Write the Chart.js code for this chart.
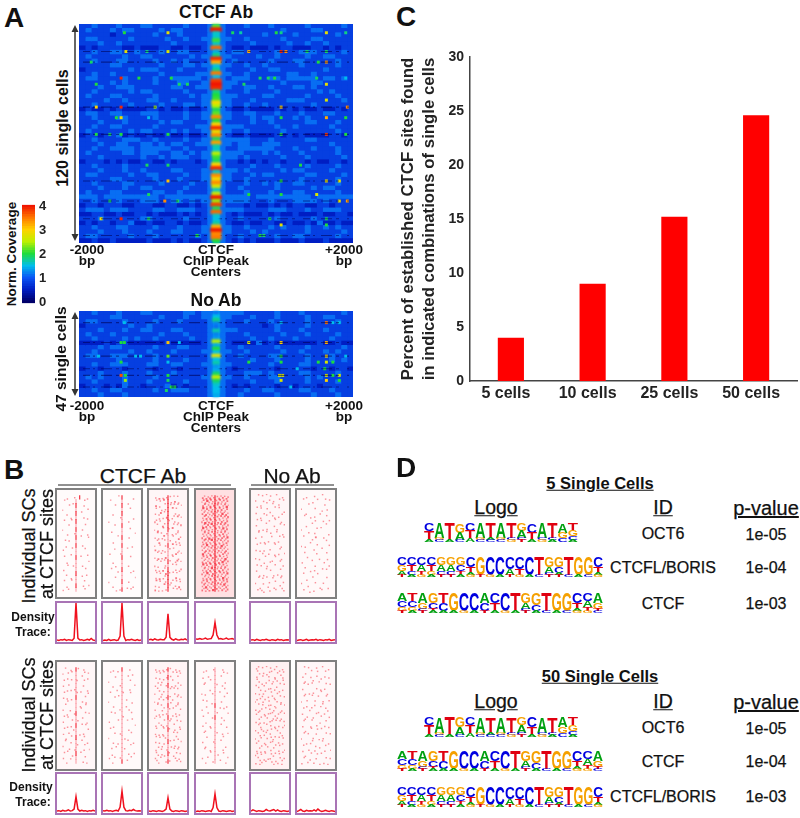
<!DOCTYPE html>
<html>
<head>
<meta charset="utf-8">
<title>CTCF single cell figure</title>
<script src="https://cdn.jsdelivr.net/npm/chart.js@4"></script>
<style>
  html, body { margin: 0; padding: 0; background: #fff; }
  #page { position: relative; width: 800px; height: 818px; overflow: hidden; font-family: "Liberation Sans", Arial, sans-serif; color: #111; }
  .label { position: absolute; white-space: nowrap; line-height: 1; transform-origin: center; }
  .frame { position: absolute; box-sizing: border-box; background: #fff; }
  .frame canvas, .free { display: block; }
  .free { position: absolute; }
  .soft { filter: blur(0.5px); }
  .softer { filter: blur(0.9px); }
  svg { position: absolute; left: 0; top: 0; }
</style>
</head>
<body>
<div id="page"></div>
<script>
// Panel C
const barCategories = ['5 cells', '10 cells', '25 cells', '50 cells'];
const barValues = [4.0, 9.0, 15.2, 24.6];

// Panel A colour bar, top to bottom
const colorbarLevels = [4, 3.9, 3.8, 3.7, 3.6, 3.5, 3.4, 3.3, 3.2, 3.1, 3, 2.9, 2.8, 2.7, 2.6, 2.5, 2.4, 2.3, 2.2, 2.1, 2, 1.9, 1.8, 1.7, 1.6, 1.5, 1.4, 1.3, 1.2, 1.1, 1, 0.9, 0.8, 0.7, 0.6, 0.5, 0.4, 0.3, 0.2, 0.1, 0];

// Background coverage that each digit in the heat map rows stands for
const heatDigitValues = [0.3, 0.5, 0.8, 1.12, 1.45];

// Panel A, CTCF Ab: background of the map, rows of cells, left to right
const heatCtcfRows = [
  '22322 23222 33222 22322 23432 22322 23222 22322 22232',
  '23222 32332 22232 33222 23432 22222 22232 22233 22222',
  '22222 12222 22322 23222 23432 22222 32222 32222 22322',
  '23322 22232 22223 22322 33433 22322 22232 22233 22222',
  '22232 23222 22222 32222 23432 22232 22223 22322 32222',
  '12122 22112 11122 11211 23432 11211 12122 11122 12122',
  '22322 33223 22232 23322 23432 33222 22322 23332 22232',
  '23222 22322 33222 22232 33433 22223 22322 22322 33222',
  '22322 23322 22322 32322 23432 32222 23222 33222 22322',
  '22222 33222 22232 22332 33433 22322 32222 23222 22322',
  '12222 22232 33322 23222 23432 22232 23322 22222 32222',
  '22322 32222 22232 22223 33433 22322 22223 32232 22222',
  '23322 22322 22322 33333 23432 33322 23323 33332 33232',
  '22222 32322 22322 23322 33433 32222 22232 22233 22222',
  '22232 23332 22222 33223 33433 22332 23222 33232 22222',
  '22322 22232 33222 22322 23432 22322 22322 22223 23222',
  '23222 33222 22322 22232 33433 32222 33222 22322 22322',
  '22223 22322 23322 32222 33433 22232 22223 33222 22232',
  '22322 22232 22232 22332 33433 22322 32222 22232 22222',
  '12112 12111 12212 11211 23432 11211 11212 12112 11212',
  '23322 33222 33322 22322 33433 22332 22322 23222 33222',
  '22322 23322 22322 22322 33433 22232 33222 32322 22222',
  '22232 22322 22232 33222 23432 22232 23222 22332 22322',
  '22322 33222 22322 22223 33433 33222 22322 32222 23222',
  '23222 22232 33222 32322 33433 22322 22232 22222 22322',
  '12212 23121 12112 11211 23432 11211 11212 12111 12212',
  '22322 22333 22322 22322 33433 33322 23222 22332 22222',
  '22232 23322 33232 33223 33433 23322 33322 22222 23222',
  '22322 33332 33333 22322 23432 23333 33222 32232 22322',
  '23222 22332 33322 33232 33433 33222 32322 23222 22322',
  '22232 22222 32232 33322 33433 32322 22232 22322 22232',
  '12221 21211 22112 12221 23432 21212 12212 22121 12212',
  '22322 22322 22222 22222 23432 22232 22322 22322 22322',
  '22232 22322 32222 33222 33433 32322 22232 33222 23222',
  '23322 22232 23322 22322 33433 22232 33222 22332 22232',
  '22222 33222 22322 23222 33433 22322 22222 23222 22322',
  '22322 22332 22232 22232 23432 22322 32322 33222 22322',
  '22232 22322 33222 22322 23432 23222 22322 22232 33222',
  '23222 33222 22332 23222 23432 22322 23222 33222 22322',
  '33323 33333 33323 33333 33433 33323 33333 33323 33333',
  '22322 23222 33322 33232 33433 33322 23222 33332 32222',
  '12212 22112 22112 21121 23432 22121 12121 22112 21222',
  '23332 33322 22332 23332 23433 33222 23332 22322 33322',
  '11221 12112 21211 12121 23432 12111 21211 21112 11221',
  '22232 22222 33222 22322 23432 23222 22322 22232 22222',
  '12122 12231 12112 21211 23432 11211 22112 11213 11211',
  '22322 23322 22322 23222 33433 22322 23232 22322 32322',
  '22232 22322 23222 33222 33433 22232 32222 22322 22232',
  '23322 22232 22322 22223 23432 23222 22322 33222 22322',
  '11211 21111 12111 21211 23432 12121 11211 12111 21111',
];

// Panel A, No Ab background
const heatNoAbRows = [
  '22322 23222 33222 22332 33433 33222 22322 23222 22232',
  '22222 33222 22232 22322 33433 22232 22322 22322 33222',
  '23322 22322 22322 23222 23432 22322 23222 22322 22322',
  '12222 22232 23222 22222 23432 22222 12322 22322 22222',
  '22232 22322 33222 33222 23433 32222 22322 23222 32222',
  '23222 32222 22232 22322 23432 22322 22232 22322 22322',
  '22322 22323 22322 22232 23432 22232 23222 32222 23222',
  '11112 12211 11112 11111 23432 11113 12111 11112 11211',
  '22232 33222 22322 23322 23432 23222 22322 22322 22232',
  '22322 22232 23222 32222 33433 22322 22232 23222 32322',
  '23322 33322 22322 22222 23432 23222 23322 22322 23222',
  '22222 23222 22322 22322 23432 22232 22322 22322 23232',
  '22322 33322 23322 33222 33433 22222 23222 23322 22222',
  '12212 22122 22122 21222 23432 12222 22122 22212 21221',
  '22232 22322 23222 32222 23432 22333 23222 23322 22322',
  '23232 22322 22322 22222 33433 22322 23322 22323 22222',
  '22322 22322 23222 22322 23432 22232 22322 22322 22322',
  '12221 21322 12223 12122 23432 12122 22122 12221 22222',
  '22322 33222 22322 33322 23432 22322 33222 23322 23222',
  '22232 22322 22222 22222 23432 23222 22322 22232 22322',
];

// Panel A hot cells as [bp from peak centre, cell, coverage]
const ctcfSpots = [
  [-1378, 2.7, 2.0], [-722, 2.7, 2.8], [251, 2.7, 1.9], [372, 2.7, 1.7], [906, 2.7, 2.0], [979, 2.7, 1.8], [1660, 2.7, 2.8], [1951, 2.7, 1.8],
  [-1354, 13.4, 2.8], [-1038, 13.4, 1.8], [-722, 13.4, 2.7], [493, 13.4, 3.2], [979, 13.4, 3.9], [1052, 13.4, 3.4], [1368, 13.4, 1.9], [1660, 13.4, 1.9],
  [-1878, 19.4, 1.9], [1538, 19.4, 2.0], [1660, 19.4, 3.3],
  [-1427, 28.5, 3.9], [-1159, 28.5, 2.0], [-673, 28.5, 2.0], [663, 28.5, 1.9], [785, 28.5, 1.9], [882, 28.5, 2.0], [1514, 28.5, 1.9], [1951, 28.5, 1.5],
  [-1801, 32, 2.0], [-552, 32, 1.9], [-430, 32, 1.9], [420, 32, 1.9], [1660, 32, 2.8],
  [1660, 41, 2.7], [-1801, 45, 3.0], [-1427, 45, 3.9], [-916, 45, 2.4], [979, 45, 3.0], [1975, 45, 3.4],
  [-1499, 51, 2.0], [-1427, 51, 2.9], [-1013, 51, 1.5], [979, 51, 2.0], [1660, 51, 3.2], [1951, 51, 2.0],
  [-1801, 60.5, 2.0], [-1597, 60.5, 1.9], [-1427, 60.5, 2.0], [-722, 60.5, 2.0], [979, 60.5, 2.0], [1660, 60.5, 3.8], [1951, 60.5, 2.0],
  [-1038, 78, 1.9], [-722, 78, 1.9], [1271, 78, 2.0],
  [-722, 87, 3.1], [979, 87, 2.0], [1660, 87, 2.8], [1854, 87, 2.8],
  [-1013, 94.7, 1.9], [493, 94.7, 2.0], [979, 94.7, 2.0], [1514, 94.7, 2.7],
  [-1597, 98.4, 1.9], [-770, 98.4, 3.4], [-576, 98.4, 1.9], [1854, 98.4, 2.8], [1975, 98.4, 3.3],
  [-1728, 108.5, 2.9], [-1427, 108.5, 3.9], [-1013, 108.5, 1.9], [809, 108.5, 1.9], [1660, 108.5, 1.9],
  [979, 112, 2.8], [1660, 112, 2.0], [-284, 118, 2.0], [663, 118, 2.0], [720, 118, 1.9],
];
const noAbSpots = [
  [-1378, 4.6, 1.5], [979, 4.6, 1.5], [1660, 4.6, 3.5], [1757, 4.6, 1.5], [1854, 4.6, 1.5],
  [-1427, 16.6, 2.0], [-1378, 16.6, 2.0], [-722, 16.6, 3.1], [-552, 16.6, 1.5], [493, 16.6, 2.7], [979, 16.6, 3.0], [1660, 16.6, 3.2],
  [-1767, 24.8, 1.5], [-1208, 24.8, 1.5], [-1135, 24.8, 1.5], [-722, 24.8, 2.2], [979, 24.8, 2.0], [1660, 24.8, 2.9], [1951, 24.8, 1.5],
  [-1427, 28.4, 2.0], [-722, 28.4, 1.5], [493, 28.4, 2.0], [979, 28.4, 2.0], [1538, 28.4, 2.0], [1660, 28.4, 2.7], [1757, 28.4, 2.0],
  [1222, 32.4, 1.5], [1635, 32.4, 2.0],
  [-1427, 36.4, 3.7], [-1363, 36.4, 2.0], [-722, 36.4, 2.0], [955, 36.4, 2.7], [1003, 36.4, 2.7], [1660, 36.4, 2.7], [1757, 36.4, 2.0], [1854, 36.4, 2.7],
  [-1363, 39.4, 2.4], [-722, 39.4, 1.9], [979, 39.4, 2.7], [1660, 39.4, 3.0], [1854, 39.4, 2.0],
  [-673, 43.4, 2.0], [-620, 43.4, 2.0], [1125, 43.4, 1.5], [-746, 45.5, 1.9],
];

// Panel A dark horizontal streaks, as cell numbers
const ctcfDarkRows = [13.4, 19.4, 45, 60.5, 87, 98.4, 108.5, 118];
const noAbDarkRows = [4.6, 16.6, 24.8, 32.4, 36.4, 43.4];

// Panel A coverage along the peak centre, top to bottom
const ctcfCentre = [2.2, 4, 1.6, 1.6, 2.1, 1.6, 3.6, 1.4, 1.8, 3.9, 3.2, 1.5, 1.8, 3.5, 1.5, 3.8, 4, 3.9, 1.8, 2, 2.1, 2.9, 2.5, 1.9, 2.2, 3.4, 2, 3, 3.9, 2.8, 3.4, 1.9, 3.3, 1.7, 1.6, 2.5, 2.1, 1.9, 3, 3.9, 1.6, 3.4, 2.9, 3.4, 2.7, 1.6, 2.6, 4, 2.4, 3.8, 1.9, 3.6, 1.6, 1.5, 1.7, 3.2, 4, 3.4, 3.5, 2];
const noAbCentre = [1.1, 1.5, 1.8, 1.2, 1.1, 1.7, 1.2, 1.3, 2.5, 1.4, 2, 1.5, 2.8, 1.5, 1.7, 1.3, 1.4, 1.9, 2.6, 1.9, 1.6, 1.5, 1.5, 1.4];

// Panel B rasters: 15 columns across, 24 rows down. 1-3 are dots, 4-5 is the line at the peak centre
const rasterTop1 = [
  '00100 01005 00010', '01000 00400 00100', '00010 10500 01000', '10000 00400 00001',
  '00100 00500 10000', '00001 00400 01010', '01000 10500 00000', '00010 00400 00100',
  '10000 00500 01000', '00100 01400 00010', '00000 00500 10001', '01010 00400 00000',
  '00100 00500 01000', '10000 10400 00100', '00001 00400 00010', '01000 00500 10000',
  '00100 00400 00001', '00010 01400 01000', '10000 00400 00100', '00100 00500 00010',
  '00001 00400 10000', '01000 10400 00100', '00100 00500 01001', '10010 00400 00100',
];
const rasterTop2 = [
  '00000 10500 00010', '01000 00400 00000', '00010 00500 10000', '00000 00400 00100',
  '00100 00500 00000', '00000 01400 00010', '10000 00400 01000', '00010 00500 00000',
  '00000 00400 00100', '01000 00400 00001', '00000 10500 01000', '00100 00400 00000',
  '00000 00500 00010', '00010 00400 10000', '10000 01400 00000', '00000 00500 00100',
  '00100 00400 00000', '00001 00400 01000', '01000 00500 00010', '00000 10400 00100',
  '00010 00400 00001', '10000 00500 01000', '00100 00400 00010', '00001 01500 10100',
];
const rasterTop3 = [
  '10201 01510 10100', '01010 20501 02010', '20100 10510 10101', '01001 01500 20100',
  '10120 10500 01010', '00101 02501 10201', '21010 00510 01010', '01002 10500 10102',
  '10100 10510 20010', '02010 01401 01100', '10101 20400 10021', '01200 10410 01010',
  '10010 01500 20101', '20101 00410 10010', '01010 10401 02101', '10201 02400 10010',
  '01010 10510 01201', '20100 01400 10100', '10102 10500 01012', '01010 02510 10100',
  '10201 10500 02010', '02010 01501 10101', '10100 20510 01020', '20101 01500 10101',
];
const rasterTop4 = [
  '21212 11512 12122', '12131 21512 21212', '22112 12521 11231', '13121 21512 22112',
  '21211 22511 13121', '12212 11521 21213', '21312 21512 12122', '11221 32511 21212',
  '23112 11521 11322', '12121 21512 22111', '21213 11512 12213', '12211 31511 21122',
  '22131 12521 13211', '11212 21512 21121', '32112 11511 12212', '12121 22521 21131',
  '21212 11512 13212', '13121 21521 11221', '12212 31512 22112', '21131 12511 21213',
  '11212 21521 13121', '22121 12512 11212', '12311 21511 21321', '21212 13521 12122',
];
const rasterTop5 = [
  '01010 10100 10010', '10001 00101 00101', '00100 10010 01000', '01010 01000 10100',
  '10001 00100 00011', '00100 10011 01000', '01010 00100 10010', '10000 10001 00101',
  '00101 01000 01000', '01000 10100 10010', '10010 00010 00101', '00101 01001 01000',
  '01000 10000 10010', '10101 00100 00100', '00010 01001 01001', '10100 10000 10010',
  '00001 00110 00100', '01010 01000 10001', '10000 10100 00100', '00101 00001 01010',
  '01010 10010 00100', '10001 00100 10001', '00100 01001 00110', '01011 00100 10001',
];
const rasterTop6 = [
  '00100 01000 10000', '01000 00010 00101', '00010 10000 01000', '10000 00100 00010',
  '00100 00001 10000', '01001 01000 00100', '00000 00100 01001', '00100 10000 00100',
  '10000 00010 10000', '00010 01000 00010', '01000 00200 01000', '00001 10000 00100',
  '10100 00010 00001', '00000 01000 10000', '01000 00100 00100', '00010 00001 00010',
  '10000 10000 01000', '00100 00100 00001', '00001 01000 10100', '01000 00010 00000',
  '00100 10000 00100', '10000 00100 01000', '00010 00001 00010', '01001 01000 10000',
];
const rasterBottom1 = [
  '01001 00510 01000', '10010 10400 00101', '00100 00400 10010', '01000 10410 00100',
  '10010 00400 01000', '00101 01400 00010', '01000 00410 10001', '10100 00500 00100',
  '00010 10400 01010', '01000 00401 00100', '10001 00400 10000', '00100 01500 00101',
  '01010 00400 01000', '10000 10410 00010', '00101 00500 10100', '01000 01400 00001',
  '10010 00401 01000', '00100 10500 00100', '01001 00400 10010', '10000 00410 00100',
  '00110 01400 01001', '01000 00500 10000', '10001 10400 00100', '00100 00400 01010',
];
const rasterBottom2 = [
  '00100 00500 01000', '01000 10400 00010', '00010 00400 10000', '10000 00400 00100',
  '00100 01400 00001', '00001 00400 01000', '01000 00410 00100', '00010 10400 00000',
  '10000 00400 10010', '00100 00401 00000', '00000 01400 01000', '01010 00400 00100',
  '00000 00410 00010', '10000 10400 10000', '00100 00400 00001', '01000 00400 01000',
  '00010 01400 00100', '10000 00401 00000', '00100 00400 10010', '00001 10400 00100',
  '01000 00410 00000', '00100 00400 01001', '10010 01400 00100', '00100 00500 10000',
];
const rasterBottom3 = [
  '10101 01510 01010', '01010 10400 10101', '10100 01510 00100', '00101 10400 10010',
  '10010 01501 01001', '01100 00410 10100', '10001 10400 01010', '00110 01510 00101',
  '10100 10401 10010', '01010 00500 01100', '10001 10410 10001', '00101 01400 01010',
  '11010 00501 10100', '00100 10410 00101', '10011 01400 10010', '01000 10510 01001',
  '10101 00400 10100', '01010 11400 00110', '10100 00510 10001', '00101 10401 01010',
  '10010 01400 10100', '01101 00510 00101', '10010 10400 11010', '01100 01510 00101',
];
const rasterBottom4 = [
  '00100 01400 01000', '01000 00400 00101', '10010 00400 10000', '00100 10400 00010',
  '01000 00410 01000', '00001 00400 00100', '10100 01400 10001', '00000 00400 00100',
  '01010 00400 01000', '00100 10500 00010', '10000 00400 10100', '00010 00410 00001',
  '01000 01500 01000', '00100 00400 00100', '10001 00400 10010', '00100 10400 00000',
  '01000 00410 01001', '00010 00400 00100', '10000 01400 10000', '00100 00400 00010',
  '01001 00400 01000', '00000 10401 00100', '10010 00400 00001', '00100 01400 10010',
];
const rasterBottom5 = [
  '11010 10101 10010', '01101 00110 01101', '10010 11001 00110', '01100 00101 11001',
  '10011 10010 00101', '01100 01101 10010', '10101 10010 01100', '00110 01011 00101',
  '11001 10100 11010', '01010 01101 00101', '10110 10101 10010', '11001 01110 01101',
  '00110 11001 11010', '10101 00110 10101', '01100 10101 01011', '10011 01010 11000',
  '01101 10100 00110', '10010 01011 10101', '11001 00110 01010', '00110 11001 10100',
  '10101 00100 01011', '11010 10011 10100', '01101 01100 00111', '10110 10011 11010',
];
const rasterBottom6 = [
  '01010 00100 10010', '00100 10010 00100', '10001 00100 01010', '00100 01001 10000',
  '01010 10000 00101', '10000 00101 01000', '00101 01000 10010', '01000 10010 00100',
  '10010 00100 01001', '00100 01001 10000', '01001 10000 00110', '10000 00110 01000',
  '00110 01000 10001', '01000 10001 00100', '10001 00100 01010', '00100 10010 10000',
  '01010 00100 00101', '10000 01001 01000', '00101 10000 10010', '01000 00101 00100',
  '10010 01000 01001', '00100 10010 10000', '01001 00100 00101', '10010 01001 01010',
];
// Rasters were read in bins, these undo the straight rows and columns of the bins
const rasterRowNudge = [0.3, -0.2, 0.45, -0.4, 0.1, 0.35, -0.3, 0.2, -0.45, 0.4, -0.1, 0.25, -0.35, 0.05, 0.4, -0.25, 0.15, -0.4, 0.3, -0.15, 0.45, -0.3, 0.1, -0.05];
const rasterColNudge = [0.2, -0.3, 0.4, -0.1, 0.3, -0.4, 0.1, 0, -0.2, 0.35, -0.35, 0.15, -0.25, 0.4, -0.05];

// Panel B density traces, 21 bins across, 0-1 of the box height
const traceTop1 = [0.05, 0.04, 0.06, 0.05, 0.07, 0.04, 0.06, 0.05, 0.04, 0.1, 1.0, 0.1, 0.05, 0.06, 0.04, 0.05, 0.07, 0.05, 0.09, 0.05, 0.04];
const traceTop2 = [0.04, 0.05, 0.04, 0.07, 0.04, 0.05, 0.06, 0.04, 0.05, 0.15, 1.0, 0.15, 0.04, 0.06, 0.05, 0.07, 0.05, 0.04, 0.06, 0.04, 0.05];
const traceTop3 = [0.06, 0.07, 0.05, 0.08, 0.06, 0.05, 0.07, 0.06, 0.06, 0.12, 0.72, 0.12, 0.07, 0.05, 0.08, 0.06, 0.05, 0.07, 0.06, 0.08, 0.05];
const traceTop4 = [0.08, 0.07, 0.09, 0.07, 0.08, 0.1, 0.07, 0.08, 0.09, 0.18, 0.5, 0.18, 0.08, 0.09, 0.07, 0.08, 0.1, 0.07, 0.08, 0.09, 0.07];
const traceTop5 = [0.05, 0.06, 0.04, 0.07, 0.05, 0.04, 0.06, 0.05, 0.07, 0.05, 0.04, 0.06, 0.05, 0.04, 0.07, 0.05, 0.06, 0.04, 0.05, 0.06, 0.05];
const traceTop6 = [0.04, 0.05, 0.06, 0.04, 0.05, 0.07, 0.04, 0.05, 0.06, 0.05, 0.07, 0.04, 0.06, 0.05, 0.04, 0.06, 0.05, 0.07, 0.04, 0.05, 0.06];
const traceBottom1 = [0.05, 0.06, 0.04, 0.07, 0.05, 0.06, 0.08, 0.05, 0.06, 0.1, 0.42, 0.1, 0.05, 0.07, 0.05, 0.06, 0.04, 0.06, 0.05, 0.07, 0.05];
const traceBottom2 = [0.06, 0.05, 0.07, 0.05, 0.06, 0.04, 0.06, 0.07, 0.05, 0.15, 0.56, 0.15, 0.06, 0.05, 0.07, 0.06, 0.09, 0.06, 0.05, 0.06, 0.05];
const traceBottom3 = [0.05, 0.04, 0.06, 0.05, 0.04, 0.06, 0.05, 0.04, 0.06, 0.1, 0.39, 0.1, 0.05, 0.04, 0.06, 0.05, 0.04, 0.06, 0.05, 0.04, 0.05];
const traceBottom4 = [0.04, 0.05, 0.04, 0.06, 0.05, 0.04, 0.05, 0.06, 0.04, 0.14, 0.49, 0.14, 0.05, 0.04, 0.06, 0.05, 0.04, 0.05, 0.06, 0.04, 0.05];
const traceBottom5 = [0.05, 0.08, 0.06, 0.04, 0.06, 0.05, 0.04, 0.05, 0.09, 0.06, 0.05, 0.07, 0.09, 0.05, 0.08, 0.05, 0.04, 0.06, 0.05, 0.04, 0.05];
const traceBottom6 = [0.04, 0.06, 0.09, 0.05, 0.04, 0.07, 0.05, 0.06, 0.05, 0.08, 0.05, 0.1, 0.06, 0.04, 0.05, 0.07, 0.05, 0.04, 0.06, 0.05, 0.04];

// Panel D sequence logos: each column is letters top to bottom with height in tenths
const logoOct6 = ['C4T5A1', 'A8G1C1', 'T9A1', 'G5A4C1', 'C4T4A2', 'A8G1C1', 'T8A1C1', 'A8G1C1', 'T8C1G1', 'G4A4C1T1', 'C5T4A1', 'A8C1G1', 'T8C1A1', 'A5G3C2', 'T4G3C2A1'];
const logoBoris = ['C4G3A2T1', 'C4T3C2A1', 'C4A3T2G1', 'C4T3G2A1', 'G4A3C2T1', 'G4A3C2T1', 'G4C3T2A1', 'C5T3A1G1', 'G9T1', 'C9G1', 'C9A1', 'C6A3T1', 'C6T3G1', 'C9A1', 'T9C1', 'G5A3C1T1', 'G5C3A1T1', 'T9C1', 'G9A1', 'G9C1', 'C5T3A1G1'];
const logoCtcf = ['A4C3G2T1', 'T4C3G2A1', 'A5G3C1T1', 'G5C3T1A1', 'T5C4A1', 'G9A1', 'C9G1', 'C9A1', 'A5C4T1', 'C5T4A1', 'C9G1', 'T9A1', 'G5A3C1T1', 'G6C3A1', 'T9C1', 'G9A1', 'G9C1', 'C5T3A1G1', 'C4A3T2G1', 'A5G3T1C1'];

const page = document.getElementById('page');
const FONT = '"Liberation Sans", Arial, sans-serif';

Chart.defaults.animation = false;
Chart.defaults.responsive = false;
Chart.defaults.font.family = FONT;
Chart.defaults.plugins.legend.display = false;
Chart.defaults.plugins.tooltip.enabled = false;

// Colour for a coverage value, same scale as the colour bar
const heatStops = [[0, 0, 0, 105], [0.5, 0, 30, 195], [1, 10, 85, 245], [1.5, 0, 190, 235], [2, 30, 220, 60], [2.5, 190, 240, 0], [3, 255, 210, 0], [3.5, 255, 120, 0], [4, 240, 20, 0]];
function heatColor(value) {
    for (let i = 1; i < heatStops.length; i++) {
        const a = heatStops[i - 1], b = heatStops[i];
        if (value <= b[0]) {
            const t = (value - a[0]) / (b[0] - a[0]);
            return `rgb(${Math.round(a[1] + t * (b[1] - a[1]))},${Math.round(a[2] + t * (b[2] - a[2]))},${Math.round(a[3] + t * (b[3] - a[3]))})`;
        }
    }
    return 'rgb(240,20,0)';
}

function addCanvas(x, y, w, h, cls) {
    const c = document.createElement('canvas');
    c.width = w;
    c.height = h;
    c.className = 'free ' + (cls || '');
    c.style.left = x + 'px';
    c.style.top = y + 'px';
    page.appendChild(c);
    return c;
}

// Box with a css border and a chart filling the inside
function addFrame(x0, y0, x1, y1, border) {
    const d = document.createElement('div');
    d.className = 'frame';
    d.style.cssText = `left:${x0}px;top:${y0}px;width:${x1 - x0}px;height:${y1 - y0}px;border:${border}`;
    const c = document.createElement('canvas');
    c.width = x1 - x0 - 4;
    c.height = y1 - y0 - 4;
    c.className = 'soft';
    d.appendChild(c);
    page.appendChild(d);
    return c;
}

function addText(text, x, y, size, opts) {
    const o = opts || {};
    const s = document.createElement('div');
    s.className = 'label';
    s.textContent = text;
    s.style.left = x + 'px';
    s.style.top = y + 'px';
    s.style.fontSize = size + 'px';
    s.style.fontWeight = o.bold ? 'bold' : 'normal';
    if (!o.bold) s.style.webkitTextStroke = '0.25px #111';
    if (o.underline) s.style.textDecoration = 'underline';
    s.style.transform = `translate(-50%,-50%) rotate(${o.rot || 0}deg)`;
    page.appendChild(s);
}

// Heat map: background as stacked horizontal bars, one dataset per column
function drawHeatBackground(x0, y0, x1, y1, rows) {
    const grid = rows.map(r => r.replace(/ /g, '').split('').map(d => heatDigitValues[+d]));
    const canvas = addCanvas(x0, y0, x1 - x0, y1 - y0, 'soft');
    canvas.style.background = 'rgb(0,66,233)';
    const datasets = grid[0].map((_, col) => ({
        data: grid.map(() => 1),
        backgroundColor: grid.map(r => heatColor(r[col])),
        barPercentage: 1,
        categoryPercentage: 1,
        inflateAmount: 0.4,
    }));
    new Chart(canvas, {
        type: 'bar',
        data: { labels: grid.map((_, i) => i), datasets },
        options: {
            indexAxis: 'y',
            layout: { padding: 0 },
            scales: {
                x: { display: false, stacked: true, min: 0, max: grid[0].length },
                y: { display: false, stacked: true },
            },
        },
    });
}

// Coverage along the peak centre as floating bars around 0 bp, hotter rows a bit wider
function drawHeatCentre(x0, y0, x1, y1, centre) {
    const canvas = addCanvas(x0, y0, x1 - x0, y1 - y0, 'softer');
    new Chart(canvas, {
        type: 'bar',
        data: {
            labels: centre.map((_, i) => i),
            datasets: [{
                data: centre.map(v => [-(25 + 14 * v), 25 + 14 * v]),
                backgroundColor: centre.map(heatColor),
                barPercentage: 1,
                categoryPercentage: 1,
            }],
        },
        options: {
            indexAxis: 'y',
            layout: { padding: 0 },
            scales: {
                x: { display: false, min: -2000, max: 2000 },
                y: { display: false },
            },
        },
    });
}

// Dark streaks and hot cells on top of the background
function drawHeatMarks(x0, y0, x1, y1, cells, spots, darkRows) {
    const canvas = addCanvas(x0, y0, x1 - x0, y1 - y0, 'soft');
    const streaks = darkRows.map(row => ({
        data: [{ x: -2000, y: row }, { x: 2000, y: row }],
        showLine: true,
        pointRadius: 0,
        borderColor: 'rgba(0,0,80,0.55)',
        borderWidth: 1.1,
        borderDash: [7, 3, 2, 6, 11, 4, 3, 8],
    }));
    const hot = {
        data: spots.map(s => ({ x: s[0], y: s[1] })),
        pointStyle: 'rect',
        pointRadius: 2.1,
        pointBorderWidth: 0,
        pointBackgroundColor: spots.map(s => heatColor(s[2])),
    };
    new Chart(canvas, {
        type: 'scatter',
        data: { datasets: [...streaks, hot] },
        options: {
            layout: { padding: 0 },
            scales: {
                x: { display: false, min: -2000, max: 2000 },
                y: { display: false, min: 0, max: cells, reverse: true },
            },
        },
    });
}

function drawColorbar() {
    const canvas = addCanvas(22, 193, 36, 122);
    new Chart(canvas, {
        type: 'bar',
        data: {
            labels: colorbarLevels,
            datasets: [{
                data: colorbarLevels.map(() => 1),
                backgroundColor: colorbarLevels.map(heatColor),
                barPercentage: 1,
                categoryPercentage: 1,
                inflateAmount: 0.4,
            }],
        },
        options: {
            indexAxis: 'y',
            layout: { padding: 0 },
            scales: {
                x: { display: false, min: 0, max: 1 },
                y: {
                    position: 'right',
                    afterFit: s => { s.width = 23; },
                    grid: { display: false, drawTicks: false },
                    border: { display: false },
                    ticks: {
                        autoSkip: false,
                        padding: 4,
                        color: '#222',
                        font: { size: 13, weight: 'bold' },
                        callback: function (v) {
                            const level = this.getLabelForValue(v);
                            return Number.isInteger(+level) ? level : '';
                        },
                    },
                },
            },
        },
    });
}

function drawRaster(x0, y0, x1, y1, rows, tint) {
    const dots = [], dashes = [];
    rows.forEach((r, ry) => {
        r.replace(/ /g, '').split('').forEach((d, cx) => {
            if (d === '0') return;
            if (+d >= 4) dashes.push({ x: cx + 0.5, y: ry + 0.5, d: +d });
            else dots.push({ x: cx + 0.5 + rasterRowNudge[ry], y: ry + 0.5 + rasterColNudge[cx], d: +d });
        });
    });
    const canvas = addFrame(x0, y0, x1, y1, '2px solid #808080');
    canvas.style.background = `rgba(255,0,20,${tint})`;
    new Chart(canvas, {
        type: 'scatter',
        data: {
            datasets: [
                {
                    data: dots,
                    pointStyle: 'rect',
                    pointBorderWidth: 0,
                    pointRadius: dots.map(p => [0, 1.05, 1.3, 1.6][p.d]),
                    pointBackgroundColor: dots.map(p => `rgba(245,20,40,${[0, 0.45, 0.55, 0.7][p.d]})`),
                },
                {
                    data: dashes,
                    pointStyle: 'line',
                    rotation: 90,
                    pointRadius: 2.3,
                    pointBorderWidth: 1.3,
                    pointBorderColor: dashes.map(p => (p.d === 5 ? 'rgba(240,0,20,0.75)' : 'rgba(245,20,40,0.32)')),
                },
            ],
        },
        options: {
            layout: { padding: 0 },
            scales: {
                x: { display: false, min: 0, max: 15 },
                y: { display: false, min: 0, max: rows.length, reverse: true },
            },
        },
    });
}

function drawTrace(x0, y0, x1, y1, values) {
    const canvas = addFrame(x0, y0, x1, y1, '2px solid #a974b5');
    new Chart(canvas, {
        type: 'line',
        data: {
            labels: values.map((_, i) => i),
            datasets: [{ data: values, borderColor: '#f0101e', borderWidth: 1.5, pointRadius: 0, tension: 0 }],
        },
        options: {
            layout: { padding: 0 },
            scales: {
                x: { display: false },
                y: { display: false, min: 0, max: 1 },
            },
        },
    });
}

function drawBars() {
    const canvas = addCanvas(395, 40, 405, 370);
    new Chart(canvas, {
        type: 'bar',
        data: {
            labels: barCategories,
            datasets: [{ data: barValues, backgroundColor: '#ff0000', barPercentage: 0.32, categoryPercentage: 1 }],
        },
        options: {
            layout: { padding: { top: 17, right: 3, left: 0, bottom: 0 } },
            scales: {
                x: {
                    afterFit: s => { s.height = 29; },
                    grid: { display: false, drawTicks: false },
                    border: { color: '#444', width: 1.5 },
                    ticks: { color: '#222', padding: 3, labelOffset: -5, font: { size: 16, weight: 'bold' } },
                },
                y: {
                    min: 0,
                    max: 30,
                    afterFit: s => { s.width = 75; },
                    grid: { display: false, drawTicks: false },
                    border: { color: '#444', width: 1.5 },
                    ticks: { stepSize: 5, color: '#222', padding: 6, font: { size: 14, weight: 'bold' } },
                    title: {
                        display: true,
                        text: ['Percent of established CTCF sites found', 'in indicated combinations of single cells'],
                        color: '#222',
                        padding: { top: 3, bottom: 0 },
                        font: { size: 16.8, weight: 'bold', lineHeight: 1.25 },
                    },
                },
            },
        },
    });
}

// Sequence logos: real letters stretched to their slot in an svg
const logoColors = { A: '#00a010', C: '#0000e0', G: '#f5a000', T: '#e00010' };
const svgNS = 'http://www.w3.org/2000/svg';
const svg = document.createElementNS(svgNS, 'svg');
svg.setAttribute('width', 800);
svg.setAttribute('height', 818);

function drawLogo(x0, x1, top, bottom, columns) {
    const colW = (x1 - x0) / columns.length;
    const unit = (bottom - top) / 10;
    columns.forEach((col, i) => {
        let y = top;
        col.match(/[ACGT]\d/g).forEach(part => {
            const letter = part[0];
            const h = +part[1] * unit;
            const t = document.createElementNS(svgNS, 'text');
            t.textContent = letter;
            t.setAttribute('font-family', FONT);
            t.setAttribute('font-weight', 'bold');
            t.setAttribute('font-size', 100);
            t.setAttribute('fill', logoColors[letter]);
            svg.appendChild(t);
            const sx = colW / t.getComputedTextLength();
            t.setAttribute('transform', `translate(${x0 + i * colW},${y + h}) scale(${sx},${h / 70})`);
            y += h;
        });
    });
}

function addArrow(x, top, bottom) {
    const line = document.createElementNS(svgNS, 'path');
    line.setAttribute('d', `M${x} ${top + 4}V${bottom - 4}`);
    line.setAttribute('stroke', '#333');
    line.setAttribute('stroke-width', 1.5);
    svg.appendChild(line);
    const head = document.createElementNS(svgNS, 'path');
    head.setAttribute('d', `M${x} ${top}l-3.5 7h7zM${x} ${bottom}l-3.5 -7h7z`);
    head.setAttribute('fill', '#333');
    svg.appendChild(head);
}

function addRule(x0, x1, y) {
    const line = document.createElementNS(svgNS, 'path');
    line.setAttribute('d', `M${x0} ${y}H${x1}`);
    line.setAttribute('stroke', '#222');
    line.setAttribute('stroke-width', 1);
    svg.appendChild(line);
}

// Panel A
addText('A', 14, 18, 28, { bold: true });
addText('CTCF Ab', 216, 13, 17.5, { bold: true });
drawHeatBackground(79, 24, 353, 243, heatCtcfRows);
drawHeatMarks(79, 24, 353, 243, 120, ctcfSpots, ctcfDarkRows);
drawHeatCentre(79, 24, 353, 243, ctcfCentre);
addText('120 single cells', 63, 128, 16, { bold: true, rot: -90 });
addText('-2000', 87, 250, 13.5, { bold: true });
addText('bp', 87, 261, 13.5, { bold: true });
addText('CTCF', 216, 250, 13.5, { bold: true });
addText('ChIP Peak', 216, 261, 13.5, { bold: true });
addText('Centers', 216, 272, 13.5, { bold: true });
addText('+2000', 344, 250, 13.5, { bold: true });
addText('bp', 344, 261, 13.5, { bold: true });
drawColorbar();
addText('Norm. Coverage', 12, 254, 13.5, { bold: true, rot: -90 });
addText('No Ab', 216, 301, 17.5, { bold: true });
drawHeatBackground(79, 311, 353, 397, heatNoAbRows);
drawHeatMarks(79, 311, 353, 397, 47, noAbSpots, noAbDarkRows);
drawHeatCentre(79, 311, 353, 397, noAbCentre);
addText('47 single cells', 61, 359, 15.5, { bold: true, rot: -90 });
addText('-2000', 87, 406, 13.5, { bold: true });
addText('bp', 87, 417, 13.5, { bold: true });
addText('CTCF', 216, 406, 13.5, { bold: true });
addText('ChIP Peak', 216, 417, 13.5, { bold: true });
addText('Centers', 216, 428, 13.5, { bold: true });
addText('+2000', 344, 406, 13.5, { bold: true });
addText('bp', 344, 417, 13.5, { bold: true });

// Panel B
addText('B', 14, 470, 28, { bold: true });
addText('CTCF Ab', 143, 475, 21);
addText('No Ab', 292, 475, 21);
const panelEdges = [[55, 97], [101, 143], [147, 189], [194, 236], [249, 291], [295, 337]];
const topRasters = [rasterTop1, rasterTop2, rasterTop3, rasterTop4, rasterTop5, rasterTop6];
const topTraces = [traceTop1, traceTop2, traceTop3, traceTop4, traceTop5, traceTop6];
const bottomRasters = [rasterBottom1, rasterBottom2, rasterBottom3, rasterBottom4, rasterBottom5, rasterBottom6];
const bottomTraces = [traceBottom1, traceBottom2, traceBottom3, traceBottom4, traceBottom5, traceBottom6];
const topTints = [0.015, 0.01, 0.035, 0.12, 0.035, 0.025];
const bottomTints = [0.03, 0.02, 0.04, 0.025, 0.05, 0.03];
panelEdges.forEach((e, i) => {
    drawRaster(e[0], 488, e[1], 599, topRasters[i], topTints[i]);
    drawTrace(e[0], 601, e[1], 644, topTraces[i]);
    drawRaster(e[0], 660, e[1], 771, bottomRasters[i], bottomTints[i]);
    drawTrace(e[0], 772, e[1], 815, bottomTraces[i]);
});
addText('Individual SCs', 29, 546, 18, { rot: -90 });
addText('at CTCF sites', 47, 544, 18, { rot: -90 });
addText('Density', 33, 617, 12, { bold: true });
addText('Trace:', 33, 632, 12, { bold: true });
addText('Individual SCs', 29, 715, 18, { rot: -90 });
addText('at CTCF sites', 47, 715, 18, { rot: -90 });
addText('Density', 31, 787, 12, { bold: true });
addText('Trace:', 33, 802, 12, { bold: true });

// Panel C
addText('C', 406, 17, 28, { bold: true });
drawBars();

// Panel D
addText('D', 406, 468, 28, { bold: true });
addText('5 Single Cells', 600, 483, 16.5, { bold: true, underline: true });
addText('Logo', 496, 508, 19.5, { underline: true });
addText('ID', 663, 508, 19.5, { underline: true });
addText('p-value', 766, 508, 20, { underline: true });
addText('OCT6', 663, 534, 16);
addText('1e-05', 766, 535, 16);
addText('CTCFL/BORIS', 663, 568, 16);
addText('1e-04', 766, 568, 16);
addText('CTCF', 663, 604, 16);
addText('1e-03', 766, 604, 16);
addText('50 Single Cells', 600, 676, 16.5, { bold: true, underline: true });
addText('Logo', 496, 702, 19.5, { underline: true });
addText('ID', 663, 702, 19.5, { underline: true });
addText('p-value', 766, 702, 20, { underline: true });
addText('OCT6', 663, 728, 16);
addText('1e-05', 766, 729, 16);
addText('CTCF', 663, 762, 16);
addText('1e-04', 766, 762, 16);
addText('CTCFL/BORIS', 663, 797, 16);
addText('1e-03', 766, 797, 16);

page.appendChild(svg);
addArrow(75, 25, 241);
addArrow(75, 312, 396);
addRule(58, 231, 485);
addRule(251, 334, 485);
drawLogo(424, 578, 523, 542, logoOct6);
drawLogo(397, 603, 557, 577, logoBoris);
drawLogo(397, 603, 593, 613, logoCtcf);
drawLogo(424, 578, 717, 737, logoOct6);
drawLogo(397, 603, 751, 771, logoCtcf);
drawLogo(397, 603, 787, 807, logoBoris);
</script>
</body>
</html>
